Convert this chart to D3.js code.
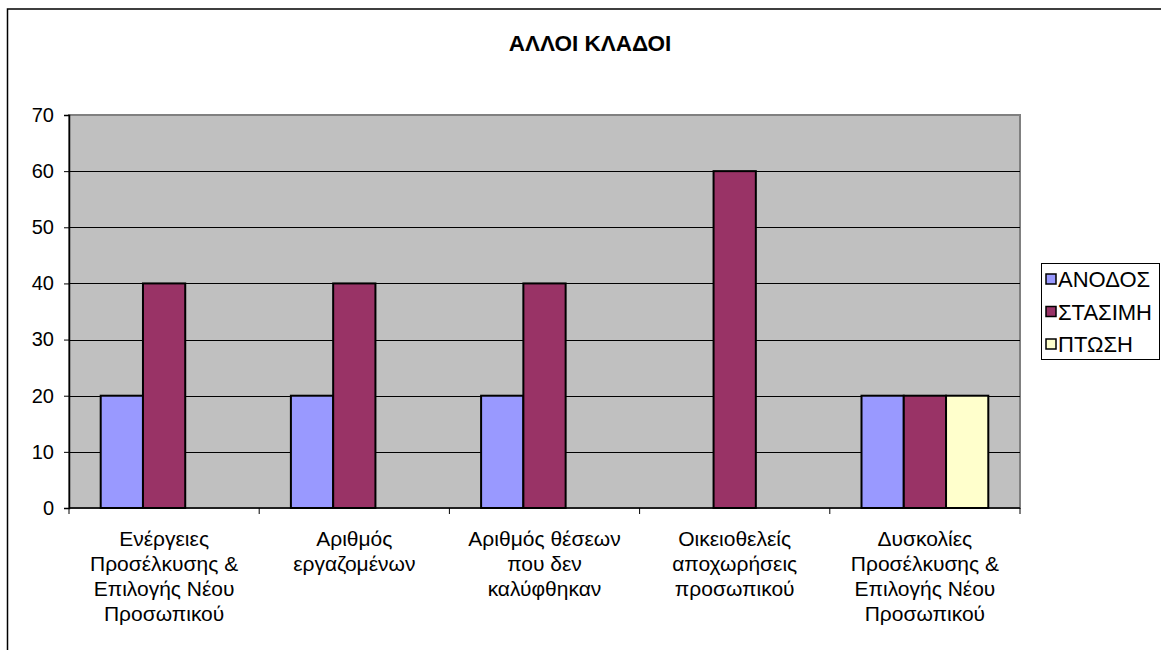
<!DOCTYPE html>
<html><head><meta charset="utf-8">
<script src="https://cdn.jsdelivr.net/npm/d3@7"></script>
<style>body{margin:0;background:#fff}svg{display:block;font-family:"Liberation Sans",Arial,sans-serif}</style>
</head><body>
<svg id="c" width="1161" height="650"></svg>
<script>
const title = "ΑΛΛΟΙ ΚΛΑΔΟΙ";
const categories = [
  ["Ενέργειες","Προσέλκυσης &","Επιλογής Νέου","Προσωπικού"],
  ["Αριθμός","εργαζομένων"],
  ["Αριθμός θέσεων","που δεν","καλύφθηκαν"],
  ["Οικειοθελείς","αποχωρήσεις","προσωπικού"],
  ["Δυσκολίες","Προσέλκυσης &","Επιλογής Νέου","Προσωπικού"]
];
const seriesNames = ["ΑΝΟΔΟΣ","ΣΤΑΣΙΜΗ","ΠΤΩΣΗ"];
const anodos  = [20,20,20,0,20];
const stasimi = [40,40,40,60,20];
const ptosi   = [0,0,0,0,20];
const yTicks = [0,10,20,30,40,50,60,70];
const colors = ["#9999FF","#993366","#FFFFCC"];

const seriesValues = [anodos, stasimi, ptosi];
const svg = d3.select("#c");
const L = 69, R = 1020, T = 115, B = 508;

// outer chart border
svg.append("rect").attr("x",7.5).attr("y",9).attr("width",1300).attr("height",800)
  .attr("fill","#fff").attr("stroke","#000").attr("stroke-width",1.5);

const x0 = d3.scaleBand().domain(d3.range(categories.length)).range([L,R]).paddingInner(0).paddingOuter(0);
const y = d3.scaleLinear().domain([0,70]).range([B,T]);
const groupW = x0.bandwidth();
const barW = groupW/(3+1.5);
const x1 = d3.scaleBand().domain(d3.range(3)).range([0, barW*3]);

// plot area
svg.append("rect").attr("x",L).attr("y",T).attr("width",R-L).attr("height",B-T)
  .attr("fill","#C0C0C0").attr("stroke","#808080").attr("stroke-width",2);

// gridlines
svg.append("g").selectAll("line").data(yTicks.filter(t=>t>0 && t<70)).join("line")
  .attr("x1",L).attr("x2",R).attr("y1",d=>Math.round(y(d))+0.5).attr("y2",d=>Math.round(y(d))+0.5)
  .attr("stroke","#000").attr("stroke-width",1);

// bars
const bars = [];
categories.forEach((c,i)=>seriesValues.forEach((vals,s)=>{ if(vals[i]>0) bars.push({i,s,v:vals[i]}); }));
svg.append("g").selectAll("rect").data(bars).join("rect")
  .attr("x",d=>x0(d.i)+barW*0.75+x1(d.s))
  .attr("y",d=>y(d.v))
  .attr("width",barW)
  .attr("height",d=>B-y(d.v))
  .attr("fill",d=>colors[d.s]).attr("stroke","#000").attr("stroke-width",2);

// y axis
const yAxis = d3.axisLeft(y).tickValues(yTicks).tickSize(5).tickPadding(10);
const ga = svg.append("g").attr("transform",`translate(${L},0)`).call(yAxis);
ga.select(".domain").attr("stroke","#000").attr("stroke-width",1.5);
ga.selectAll(".tick line").attr("stroke","#000");
ga.selectAll("text").attr("font-size",20).attr("fill","#000").attr("font-family","Liberation Sans, Arial, sans-serif");

// x axis
const xTickPos = d3.range(categories.length+1).map(i=>L+i*groupW);
svg.append("line").attr("x1",L).attr("x2",R).attr("y1",B).attr("y2",B).attr("stroke","#000").attr("stroke-width",1.5);
svg.append("g").selectAll("line").data(xTickPos).join("line")
  .attr("x1",d=>d).attr("x2",d=>d).attr("y1",B).attr("y2",B+6).attr("stroke","#000");

const lab = svg.append("g").attr("font-size",21).attr("fill","#000").attr("text-anchor","middle");
categories.forEach((lines,i)=>{
  const t = lab.append("text").attr("x",x0(i)+groupW/2).attr("y",546);
  lines.forEach((ln,k)=>t.append("tspan").attr("x",x0(i)+groupW/2).attr("y",546+k*25).text(ln));
});

// title
svg.append("text").attr("x",590).attr("y",51).attr("text-anchor","middle")
  .attr("font-size",22.5).attr("font-weight","bold").text(title);

// legend
const lg = svg.append("g");
lg.append("rect").attr("x",1041.5).attr("y",263.5).attr("width",118).attr("height",96)
  .attr("fill","#fff").attr("stroke","#000").attr("stroke-width",1);
seriesNames.forEach((n,k)=>{
  const cy = 279 + k*32.5;
  lg.append("rect").attr("x",1046).attr("y",cy-5).attr("width",10).attr("height",10)
    .attr("fill",colors[k]).attr("stroke","#000").attr("stroke-width",1.5);
  lg.append("text").attr("x",1058).attr("y",cy+8).attr("font-size",22).text(n);
});
</script>
</body></html>
